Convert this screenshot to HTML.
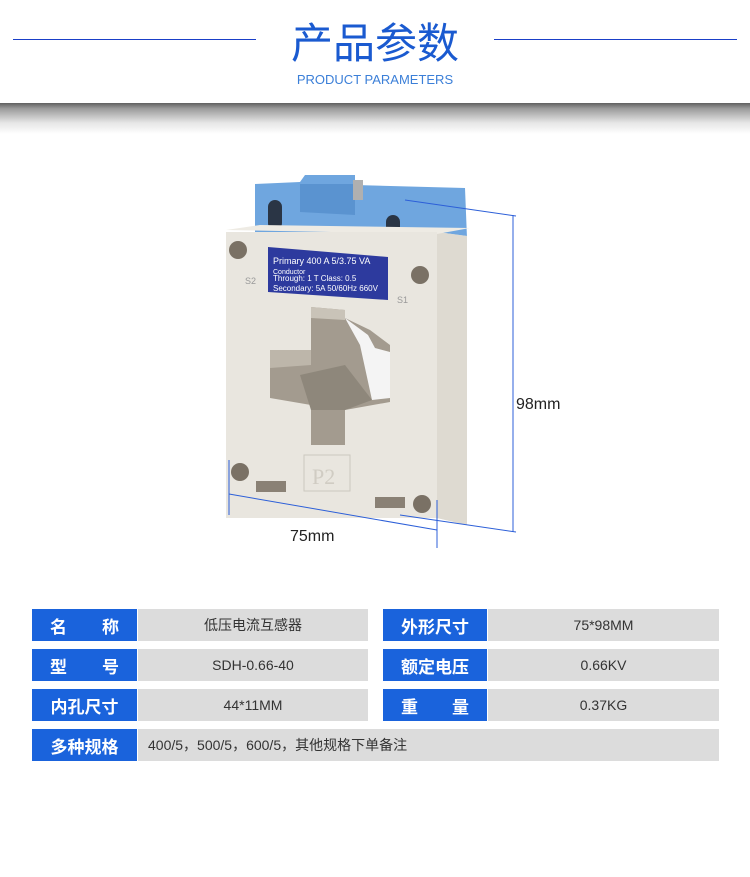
<!DOCTYPE html>
<html><head><meta charset="utf-8"><style>
*{margin:0;padding:0;box-sizing:border-box}
body{width:750px;height:877px;background:#fff;position:relative;overflow:hidden;font-family:"Liberation Sans","Noto Sans CJK SC",sans-serif}
.a{position:absolute}
.shadow{left:0;top:102px;width:750px;height:32px;background:linear-gradient(#555,#9a9a9a 20%,#e6e6e6 65%,#fff)}
.lab{background:#1a63dc;color:#fff;font-size:17px;font-weight:bold;display:flex;align-items:center;justify-content:space-between;padding:0 18px;height:32px}
.val{background:#dcdcdc;color:#333;font-size:14px;display:flex;align-items:center;justify-content:center;height:32px}
</style></head><body>
<div class="a shadow"></div>
<div class="a" style="left:0;top:0;width:750px;height:103px;background:#fff"></div>
<div class="a" style="left:13px;top:39px;width:243px;height:1px;background:#1a3fc8"></div>
<div class="a" style="left:494px;top:39px;width:243px;height:1px;background:#1a3fc8"></div>
<div class="a" style="left:270px;top:14px;width:210px;text-align:center;font-size:42px;color:#1a5ad0;font-family:'Noto Sans CJK SC',sans-serif;line-height:54px">产品参数</div>
<div class="a" style="left:250px;top:72px;width:250px;text-align:center;font-size:13px;color:#3b7fd8">PRODUCT PARAMETERS</div>

<svg class="a" style="left:0;top:0" width="750" height="600">
<!-- blue terminal -->
<polygon points="255,184 300,182 305,175 355,175 355,185 465,188 467,238 255,238" fill="#6fa6df"/>
<polygon points="300,184 355,184 355,215 300,212" fill="#5a93d0"/>
<rect x="268" y="200" width="14" height="30" rx="7" fill="#2a3545"/>
<rect x="386" y="215" width="14" height="25" rx="7" fill="#2a3545"/>
<rect x="353" y="180" width="10" height="20" fill="#b0b0b0"/>
<!-- body -->
<polygon points="226,232 437,232 467,236 467,525 437,518 226,512" fill="#e7e4dc"/>
<polygon points="437,232 467,236 467,525 437,518" fill="#dedad1"/>
<polygon points="226,230 260,225 470,228 437,234" fill="#eeebe4"/>
<rect x="226" y="232" width="211" height="286" fill="#e9e6df"/>
<!-- holes -->
<circle cx="238" cy="250" r="9" fill="#7a7165"/>
<circle cx="420" cy="275" r="9" fill="#7a7165"/>
<circle cx="240" cy="472" r="9" fill="#7a7165"/>
<circle cx="422" cy="504" r="9" fill="#7a7165"/>
<rect x="256" y="481" width="30" height="11" fill="#8a8175"/>
<rect x="375" y="497" width="30" height="11" fill="#8a8175"/>
<!-- window -->
<polygon points="311,307 345,310 345,318 370,330 390,345 390,402 345,410 345,445 311,445 311,405 270,398 270,350 311,350" fill="#a39b8f"/>
<polygon points="311,307 345,310 345,320 311,318" fill="#c9c3b8"/>
<polygon points="270,350 311,350 311,365 270,368" fill="#bdb6aa"/>
<polygon points="345,318 368,335 375,348 390,352 390,398 372,400 360,345" fill="#f4f4f4"/>
<polygon points="300,375 345,365 372,400 345,410 311,410" fill="#8e877b"/>
<!-- label -->
<polygon points="268,247 388,257 388,300 268,292" fill="#2d3a9e"/>
<text x="273" y="264" font-size="9" fill="#fff" font-family="Liberation Sans">Primary 400 A 5/3.75 VA</text>
<text x="273" y="274" font-size="7" fill="#fff" font-family="Liberation Sans">Conductor</text>
<text x="273" y="281" font-size="8" fill="#fff" font-family="Liberation Sans">Through:  1  T Class: 0.5</text>
<text x="273" y="291" font-size="8" fill="#fff" font-family="Liberation Sans">Secondary: 5A 50/60Hz 660V</text>
<text x="245" y="284" font-size="9" fill="#999">S2</text>
<text x="397" y="303" font-size="9" fill="#999">S1</text>
<rect x="304" y="455" width="46" height="36" fill="none" stroke="#ccc8bf"/>
<text x="312" y="484" font-size="22" fill="#d0ccc3" font-family="Liberation Serif">P2</text>
<!-- dimensions -->
<g stroke="#2c5fd8" stroke-width="1">
<line x1="513" y1="215" x2="513" y2="532"/>
<line x1="405" y1="200" x2="516" y2="216"/>
<line x1="400" y1="515" x2="516" y2="532"/>
<line x1="229" y1="460" x2="229" y2="515"/>
<line x1="437" y1="500" x2="437" y2="548"/>
<line x1="229" y1="494" x2="437" y2="530"/>
</g>
<text x="516" y="409" font-size="16" fill="#222" font-family="Liberation Sans">98mm</text>
<text x="290" y="541" font-size="16" fill="#222" font-family="Liberation Sans">75mm</text>
</svg>

<div class="a lab" style="left:32px;top:609px;width:105px"><span>名</span><span>称</span></div>
<div class="a val" style="left:138px;top:609px;width:230px">低压电流互感器</div>
<div class="a lab" style="left:383px;top:609px;width:104px;justify-content:center">外形尺寸</div>
<div class="a val" style="left:488px;top:609px;width:231px">75*98MM</div>

<div class="a lab" style="left:32px;top:649px;width:105px"><span>型</span><span>号</span></div>
<div class="a val" style="left:138px;top:649px;width:230px">SDH-0.66-40</div>
<div class="a lab" style="left:383px;top:649px;width:104px;justify-content:center">额定电压</div>
<div class="a val" style="left:488px;top:649px;width:231px">0.66KV</div>

<div class="a lab" style="left:32px;top:689px;width:105px;justify-content:center">内孔尺寸</div>
<div class="a val" style="left:138px;top:689px;width:230px">44*11MM</div>
<div class="a lab" style="left:383px;top:689px;width:104px"><span>重</span><span>量</span></div>
<div class="a val" style="left:488px;top:689px;width:231px">0.37KG</div>

<div class="a lab" style="left:32px;top:729px;width:105px;justify-content:center">多种规格</div>
<div class="a val" style="left:138px;top:729px;width:581px;justify-content:flex-start;padding-left:10px">400/5，500/5，600/5，其他规格下单备注</div>
</body></html>
